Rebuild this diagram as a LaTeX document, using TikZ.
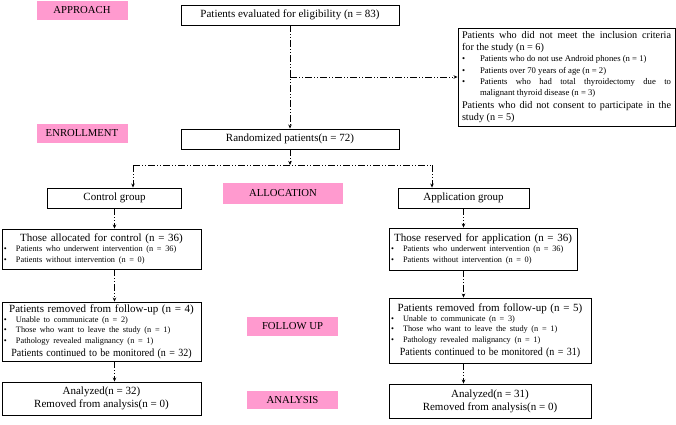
\documentclass[tikz,border=0pt]{standalone}
\usepackage{fontspec}
\usepackage{graphicx}
\setmainfont{Liberation Serif}
\usetikzlibrary{arrows.meta}
\definecolor{pinklab}{HTML}{FF9ACF}
\newcommand\bitem[2]{\par\noindent\hangindent=#1\hangafter=1\makebox[#1][l]{\textbullet}#2}
\newcommand\bigf{\fontsize{11}{13}\selectfont}
\newcommand\smf{\fontsize{8.3}{10.2}\selectfont}
\newcommand\squeeze[1]{\scalebox{0.91}[1]{#1}}
\begin{document}
\begin{tikzpicture}[x=1pt,y=-1pt,
  box/.style={draw, line width=0.9pt, inner sep=0pt, font=\bigf},
  lab/.style={fill=pinklab, inner sep=0pt, font=\fontsize{10.7}{12}\selectfont},
  conn/.style={line width=0.9pt, dash pattern=on 7pt off 2pt on 1pt off 2pt on 1pt off 2pt},
  arr/.style={conn, -{Stealth[length=4pt,width=3.5pt]}}]
\useasboundingbox (0,0) rectangle (676,424);

% phase labels
\node[lab, minimum width=91, minimum height=19] (lapp) at (82,10.5) {APPROACH};
\node[lab, minimum width=91, minimum height=19] (lenr) at (82,133.5) {ENROLLMENT};
\node[lab, minimum width=120, minimum height=21] (lall) at (283,193.5) {ALLOCATION};
\node[lab, minimum width=91, minimum height=19] (lfol) at (292.5,326.5) {FOLLOW UP};
\node[lab, minimum width=91, minimum height=18] (lana) at (292.5,400) {ANALYSIS};

% boxes
\node[box, minimum width=218, minimum height=20] (top) at (290,15) {Patients evaluated for eligibility (n = 83)};
\node[box, minimum width=217, minimum height=98, text width=209, inner xsep=4, align=justify, font=\fontsize{10.2}{12.3}\selectfont] (excl) at (566.5,77) {%
Patients who did not meet the inclusion criteria\linebreak for the study (n = 6)\par
{\fontsize{8.7}{11.3}\selectfont
\bitem{18pt}{Patients who do not use Android phones (n = 1)}
\bitem{18pt}{Patients over 70 years of age (n = 2)}
\bitem{18pt}{Patients who had total thyroidectomy due to\linebreak malignant thyroid disease (n = 3)}\par}
Patients who did not consent to participate in the\linebreak study (n = 5)};
\node[box, minimum width=218, minimum height=20] (rand) at (290,139) {Randomized patients(n = 72)};
\node[box, minimum width=134, minimum height=20] (ctrl) at (114.5,198) {Control group};
\node[box, minimum width=131, minimum height=20] (appg) at (463.5,198) {Application group};

\node[box, minimum width=199, minimum height=40, text width=195, inner xsep=2] (alloc) at (101.5,249) {%
{\centering\bigf Those allocated for control (n = 36)\par}
{\smf\raggedright
\bitem{12pt}{Patients who underwent intervention (n = 36)}
\bitem{12pt}{Patients without intervention (n = 0)}\par}};
\node[box, minimum width=188, minimum height=42, text width=184, inner xsep=2] (resv) at (483,249) {%
{\centering\bigf Those reserved for application (n = 36)\par}
{\smf\raggedright
\bitem{12pt}{Patients who underwent intervention (n = 36)}
\bitem{12pt}{Patients without intervention (n = 0)}\par}};

\node[box, minimum width=199, minimum height=59, text width=195, inner xsep=2] (reml) at (101.5,331.5) {%
{\centering\bigf Patients removed from follow-up (n = 4)\par}
{\smf\raggedright
\bitem{12pt}{Unable to communicate (n = 2)}
\bitem{12pt}{Those who want to leave the study (n = 1)}
\bitem{12pt}{Pathology revealed malignancy (n = 1)}\par}
{\centering\bigf \squeeze{Patients continued to be monitored (n = 32)}\par}};
\node[box, minimum width=202, minimum height=65, text width=198, inner xsep=2] (remr) at (490,330.5) {%
{\centering\bigf Patients removed from follow-up (n = 5)\par}
{\smf\raggedright
\bitem{12pt}{Unable to communicate (n = 3)}
\bitem{12pt}{Those who want to leave the study (n = 1)}
\bitem{12pt}{Pathology revealed malignancy (n = 1)}\par}
{\centering\bigf \squeeze{Patients continued to be monitored (n = 31)}\par}};

\node[box, minimum width=199, minimum height=33, align=center] (anal) at (101.5,398.5) {Analyzed(n = 32)\\Removed from analysis(n = 0)};
\node[box, minimum width=202, minimum height=34, align=center] (anar) at (490,401) {Analyzed(n = 31)\\Removed from analysis(n = 0)};

% connectors
\draw[arr] (top.south) -- (rand.north);
\coordinate (br) at (290,77);
\draw[arr] (br) -- (excl.west);
\coordinate (split) at (290,165);
\coordinate (sl) at (133,165);
\coordinate (sr) at (432,165);
\draw[arr] (rand.south) -- (split);
\draw[conn] (sl) -- (sr);
\draw[arr] (sl) -- (sl |- ctrl.north);
\draw[arr] (sr) -- (sr |- appg.north);
\draw[arr] (ctrl.south) -- (ctrl.south |- alloc.north);
\draw[arr] (appg.south) -- (appg.south |- resv.north);
\draw[arr] (ctrl.south |- alloc.south) -- (ctrl.south |- reml.north);
\draw[arr] (appg.south |- resv.south) -- (appg.south |- remr.north);
\draw[arr] (ctrl.south |- reml.south) -- (ctrl.south |- anal.north);
\draw[arr] (appg.south |- remr.south) -- (appg.south |- anar.north);
\end{tikzpicture}
\end{document}
